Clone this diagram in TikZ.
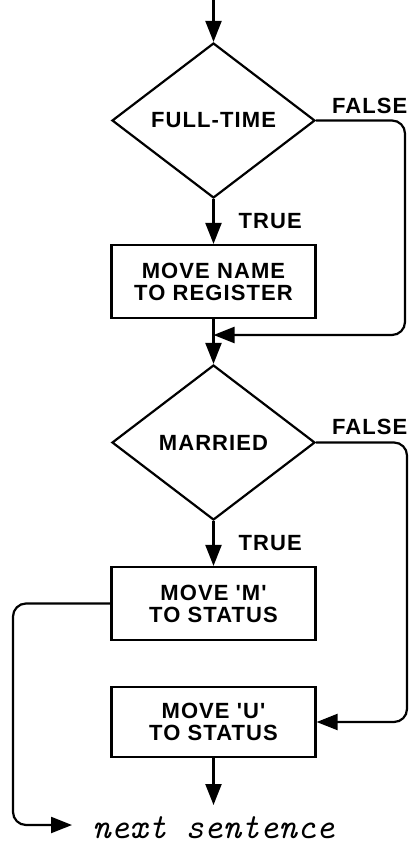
\documentclass[tikz,border=0pt]{standalone}
\usepackage{fontspec}
\usetikzlibrary{shapes.geometric,arrows.meta}
\newfontfamily\flowfont[LetterSpace=5]{Liberation Sans Bold}
\begin{document}
\begin{tikzpicture}[x=1pt,y=-1pt,
  line width=2.2pt,
  txt/.style={font=\flowfont\fontsize{22}{22}\selectfont},
  decision/.style={txt, draw, diamond, minimum width=203pt, minimum height=155pt, inner sep=0pt},
  action/.style={txt, draw, rectangle, minimum width=204pt, minimum height=73pt, align=center, inner sep=0pt},
  flow/.style={-{Triangle[length=21pt,width=16pt]}},
  link/.style={rounded corners=13pt},
  lbl/.style={txt, inner sep=0pt, anchor=west}
]
\useasboundingbox (0,0) rectangle (409,845);

% decisions and actions
\node[decision] (d1) at (213.5,120.5) {FULL-TIME};
\node[action] (b1) at (213.5,281.5) {MOVE NAME\\TO REGISTER};
\node[decision] (d2) at (213.5,442.5) {MARRIED};
\node[action] (b2) at (213.5,603.5) {MOVE 'M'\\TO STATUS};
\node[action, minimum height=70pt] (b3) at (213.5,722) {MOVE 'U'\\TO STATUS};
\node[anchor=base west, inner sep=0pt, font=\fontsize{35.5}{36}\ttfamily\itshape] (ns) at (91,838) {next sentence};

% branch labels
\node[lbl] (f1) at (331,106) {FALSE};
\node[lbl] (f2) at (331,427) {FALSE};

% helper points
\coordinate (top) at (213.5,0);
\coordinate (rc1) at (405,335);
\coordinate (j1) at (213.5,335);
\coordinate (rc2) at (407,722);
\coordinate (lc) at (13,825);
\coordinate (nsin) at (72,825);
\coordinate (nstop) at (213.5,805);

% main flow
\draw[flow] (top) -- (d1.north);
\draw[flow] (d1.south) -- node[lbl, xshift=24pt] (t1) {TRUE} (b1.north);
\draw[flow] (b1.south) -- (d2.north);
\draw[flow] (d2.south) -- node[lbl, xshift=24pt] (t2) {TRUE} (b2.north);
\draw[flow] (b3.south) -- (nstop);

% false branches and exits
\draw[flow, link] (d1.east) -| (rc1) -- (j1);
\draw[flow, link] (d2.east) -| (rc2) -- (b3.east);
\draw[flow, link] (b2.west) -| (lc) -- (nsin);
\end{tikzpicture}
\end{document}
